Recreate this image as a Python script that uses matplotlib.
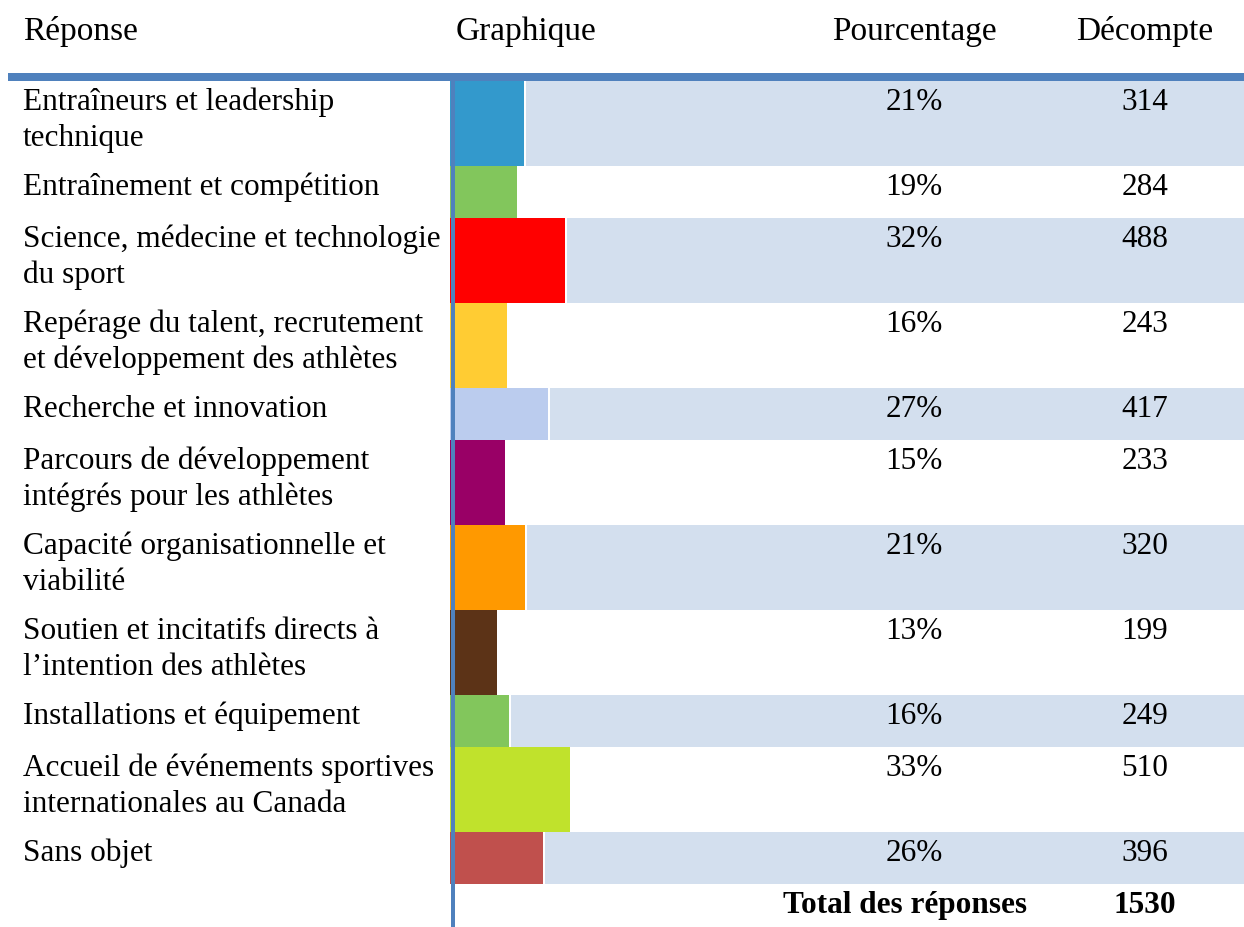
import matplotlib.pyplot as plt

plt.rcParams['font.family'] = ['Liberation Serif', 'DejaVu Serif']

# Réponses du sondage
reponses = [
    'Entraîneurs et leadership\ntechnique',
    'Entraînement et compétition',
    'Science, médecine et technologie\ndu sport',
    'Repérage du talent, recrutement\net développement des athlètes',
    'Recherche et innovation',
    'Parcours de développement\nintégrés pour les athlètes',
    'Capacité organisationnelle et\nviabilité',
    'Soutien et incitatifs directs à\nl\u2019intention des athlètes',
    'Installations et équipement',
    'Accueil de événements sportives\ninternationales au Canada',
    'Sans objet',
]
pourcentages = [21, 19, 32, 16, 27, 15, 21, 13, 16, 33, 26]
decomptes = [314, 284, 488, 243, 417, 233, 320, 199, 249, 510, 396]
total = 1530
couleurs = ['#3399CC', '#82C65C', '#FF0000', '#FFCC33', '#BBCCEE', '#990066',
            '#FF9900', '#5C3317', '#82C65C', '#C0E22C', '#C0504D']

W, H = 1244, 928
fs = 22.5
fs_head = 24
bande = '#D3DFEE'
bleu = '#4F81BD'

fig = plt.figure(figsize=(W / 100, H / 100), dpi=100)

# axe des barres : 0 % à x=450 px, 3,6 px par point de pourcentage
x0, px_pct = 450, 3.6
bx = fig.add_axes([x0 / W, 0, (W - x0) / W, 1])
bx.set_xlim(0, (W - x0) / px_pct)
bx.set_ylim(H, 0)
bx.axis('off')

# axe du tableau (textes et traits), par-dessus les barres
ax = fig.add_axes([0, 0, 1, 1])
ax.set_xlim(0, W)
ax.set_ylim(H, 0)
ax.axis('off')
ax.patch.set_alpha(0)

# en-têtes
y_head = 40
ax.text(23, y_head, 'Réponse', fontsize=fs_head, va='baseline')
ax.text(456, y_head, 'Graphique', fontsize=fs_head, va='baseline')
ax.text(914, y_head, 'Pourcentage', fontsize=fs_head, va='baseline', ha='center')
ax.text(1145, y_head, 'Décompte', fontsize=fs_head, va='baseline', ha='center')
ax.fill_between([8, W], 74, 82, color=bleu, lw=0)

# lignes du tableau
top = 82
gap = 2 / px_pct
xmax = (W - x0) / px_pct
for i, (lab, pct, n, c) in enumerate(zip(reponses, pourcentages, decomptes, couleurs)):
    lignes = lab.split('\n')
    h = 85 if len(lignes) == 2 else 52
    val = n / total * 100
    if i % 2 == 0:
        bx.barh(top, xmax - val - gap, left=val + gap, height=h, align='edge',
                color=bande, lw=0)
    bx.barh(top, val, height=h, align='edge', color=c, lw=0)
    base = top + 28
    for k, t in enumerate(lignes):
        ax.text(23, base + 36 * k, t, fontsize=fs, va='baseline')
    ax.text(914, base, f'{pct}%', fontsize=fs, va='baseline', ha='center')
    ax.text(1145, base, f'{n}', fontsize=fs, va='baseline', ha='center')
    top += h

# ligne du total
ax.text(1027, top + 28, 'Total des réponses', fontsize=fs, fontweight='bold',
        va='baseline', ha='right')
ax.text(1145, top + 28, f'{total}', fontsize=fs, fontweight='bold',
        va='baseline', ha='center')

# trait vertical bleu de la colonne graphique
ax.fill_betweenx([82, H], 451, 454.5, color=bleu, lw=0)

fig.savefig('out.png', dpi=100)
